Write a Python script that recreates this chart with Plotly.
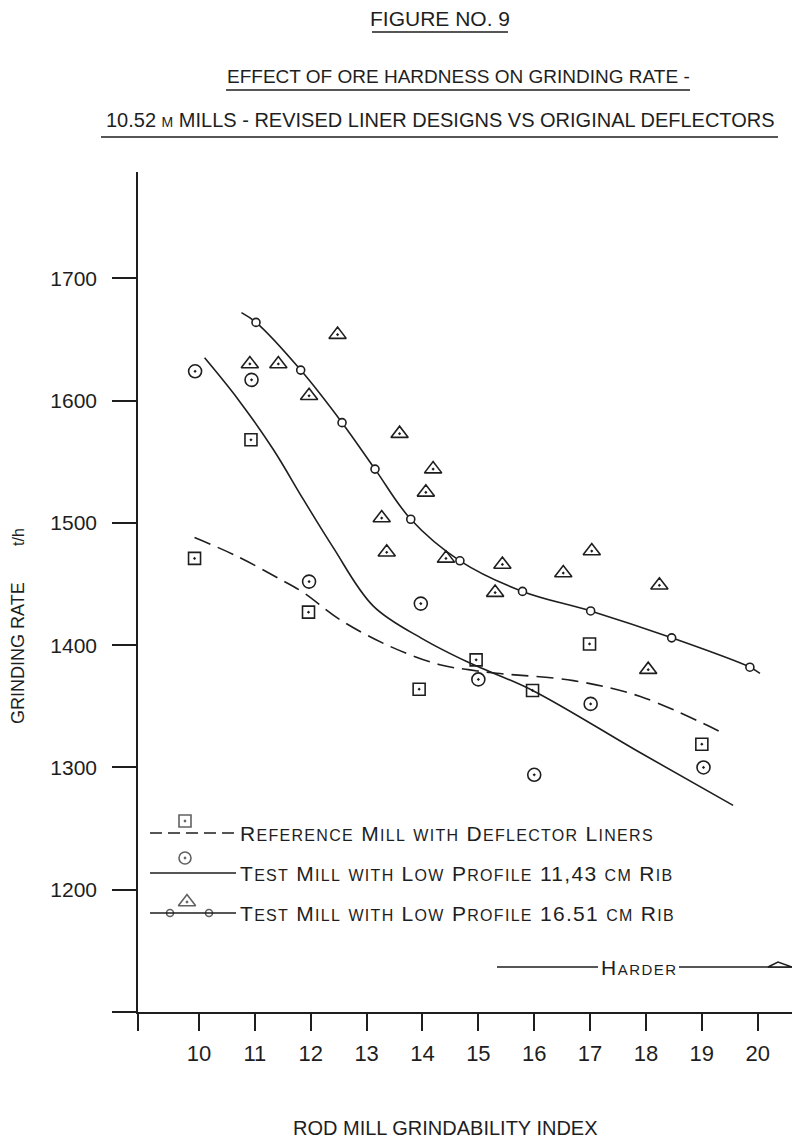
import plotly.graph_objects as go

# ---------------- data ----------------
x_tick_vals = [10, 11, 12, 13, 14, 15, 16, 17, 18, 19, 20]
y_tick_vals = [1200, 1300, 1400, 1500, 1600, 1700]

# Reference mill with deflector liners (squares)
ref_x = [9.92, 10.93, 11.96, 13.94, 14.96, 15.97, 16.99, 19.00]
ref_y = [1471, 1568, 1427, 1364, 1388, 1363, 1401, 1319]

# Test mill, low profile 11.43 cm rib (circle-dot)
rib114_x = [9.93, 10.94, 11.97, 13.97, 15.00, 16.00, 17.01, 19.03]
rib114_y = [1624, 1617, 1452, 1434, 1372, 1294, 1352, 1300]

# Test mill, low profile 16.51 cm rib (triangles)
rib165_x = [10.91, 11.42, 11.97, 12.48, 13.27, 13.36, 13.59, 14.06,
            14.19, 14.42, 15.30, 15.43, 16.52, 17.03, 18.04, 18.24]
rib165_y = [1630, 1630, 1604, 1654, 1504, 1476, 1573, 1525,
            1544, 1471, 1443, 1466, 1459, 1477, 1380, 1449]

# hand-drawn trend curves
ref_fit_x = [9.92, 10.67, 11.45, 11.87, 12.52, 13.42, 14.31, 14.82, 15.33, 16.70, 17.90, 19.43]
ref_fit_y = [1488, 1473, 1454, 1443, 1421, 1399, 1384, 1380, 1377, 1371, 1358, 1327]

rib114_fit_x = [10.10, 10.70, 11.33, 11.87, 12.40, 13.12, 14.01, 14.82, 15.97, 17.90, 19.56]
rib114_fit_y = [1635, 1601, 1560, 1519, 1480, 1432, 1405, 1386, 1363, 1312, 1269]

rib165_fit_x = [10.76, 11.02, 11.82, 12.56, 13.15, 13.79, 14.67, 15.79, 17.01, 18.46, 19.86, 20.04]
rib165_fit_y = [1672, 1664, 1625, 1582, 1544, 1503, 1469, 1444, 1428, 1406, 1382, 1377]
rib165_knot_x = [11.02, 11.82, 12.56, 13.15, 13.79, 14.67, 15.79, 17.01, 18.46, 19.86]
rib165_knot_y = [1664, 1625, 1582, 1544, 1503, 1469, 1444, 1428, 1406, 1382]

legend_labels = ["Reference Mill with Deflector Liners",
                 "Test Mill with Low Profile 11,43 cm Rib",
                 "Test Mill with Low Profile 16.51 cm Rib"]

# ---------------- style / layout ----------------
OFF = 8                      # page body margin of the browser
W, H = 800 - OFF, 1146 - OFF  # figure size so that it ends at the window edge
PL, PR, PT, PB = 138, 800, 172, 1012   # plot area in window pixels
ML, MR, MT, MB = PL - OFF, 800 - PR, PT - OFF, 1146 - PB
X_RANGE = [8.908, 20.757]
Y_RANGE = [1100, 1787]
INK = "#1e1e1e"
FONT = "Liberation Sans Narrow, Liberation Sans, Arial, sans-serif"


def px(x):
    return (x - PL) / (PR - PL)


def py(y):
    return (PB - y) / (PB - PT)


def smallcaps(s, big, small, extra=""):
    runs = []
    for ch in s:
        if ch.islower():
            sz, c = small, ch.upper()
        else:
            sz, c = big, ch
        if runs and runs[-1][0] == sz:
            runs[-1][1] += c
        else:
            runs.append([sz, c])
    return "".join(f'<span style="font-size:{sz}px;{extra}">{t}</span>' for sz, t in runs)


fig = go.Figure()

# trend curves
fig.add_trace(go.Scatter(x=ref_fit_x, y=ref_fit_y, mode="lines",
                         line=dict(color=INK, width=1.6, dash="17px,8px", shape="spline", smoothing=1.0),
                         hoverinfo="skip"))
fig.add_trace(go.Scatter(x=rib114_fit_x, y=rib114_fit_y, mode="lines",
                         line=dict(color=INK, width=1.6, shape="spline", smoothing=1.0),
                         hoverinfo="skip"))
fig.add_trace(go.Scatter(x=rib165_fit_x, y=rib165_fit_y, mode="lines",
                         line=dict(color=INK, width=1.6, shape="spline", smoothing=1.0),
                         hoverinfo="skip"))
fig.add_trace(go.Scatter(x=rib165_knot_x, y=rib165_knot_y, mode="markers",
                         marker=dict(symbol="circle", size=8, color="white",
                                     line=dict(color=INK, width=1.6)),
                         hoverinfo="skip"))

# data points
fig.add_trace(go.Scatter(x=ref_x, y=ref_y, mode="markers", name=legend_labels[0],
                         marker=dict(symbol="square-open-dot", size=12, color=INK,
                                     line=dict(color=INK, width=1.6))))
fig.add_trace(go.Scatter(x=rib114_x, y=rib114_y, mode="markers", name=legend_labels[1],
                         marker=dict(symbol="circle-open-dot", size=13, color=INK,
                                     line=dict(color=INK, width=1.6))))
fig.add_trace(go.Scatter(x=rib165_x, y=rib165_y, mode="markers", name=legend_labels[2],
                         marker=dict(symbol="triangle-up-open-dot", size=15, color=INK,
                                     line=dict(color=INK, width=1.6))))

# ---------- hand-drawn legend (pixel overlay axes) ----------
leg_rows = [833, 873, 913]
shapes = []
shapes.append(dict(type="line", xref="x2", yref="y2", x0=150, x1=236, y0=leg_rows[0], y1=leg_rows[0],
                   line=dict(color=INK, width=1.6, dash="12px,6px")))
shapes.append(dict(type="line", xref="x2", yref="y2", x0=150, x1=236, y0=leg_rows[1], y1=leg_rows[1],
                   line=dict(color=INK, width=1.6)))
shapes.append(dict(type="line", xref="x2", yref="y2", x0=150, x1=236, y0=leg_rows[2], y1=leg_rows[2],
                   line=dict(color=INK, width=1.6)))
# "Harder" arrow
shapes.append(dict(type="line", xref="x2", yref="y2", x0=497, x1=598, y0=967, y1=967,
                   line=dict(color=INK, width=1.6)))
shapes.append(dict(type="line", xref="x2", yref="y2", x0=679, x1=792, y0=967, y1=967,
                   line=dict(color=INK, width=1.6)))
shapes.append(dict(type="path", xref="x2", yref="y2",
                   path="M 768 967 L 778 962 L 792 967 Z",
                   line=dict(color=INK, width=1.4), fillcolor="white"))

fig.add_trace(go.Scatter(x=[185, 185, 187, 170, 209], y=[821, 858, 902, 913, 913],
                         xaxis="x2", yaxis="y2", mode="markers", cliponaxis=False,
                         marker=dict(symbol=["square-open-dot", "circle-open-dot", "triangle-up-open-dot",
                                             "circle", "circle"],
                                     size=[12, 12, 15, 7, 7], color=[INK, INK, INK, "white", "white"],
                                     line=dict(color=INK, width=1.6)),
                         hoverinfo="skip"))

annotations = []
for row, lab in zip(leg_rows, legend_labels):
    annotations.append(dict(xref="x2", yref="y2", x=238, y=row, xanchor="left", yanchor="middle",
                            showarrow=False, text=smallcaps(lab, 21, 16, "letter-spacing:1.3px"),
                            font=dict(family=FONT, color=INK)))
annotations.append(dict(xref="x2", yref="y2", x=639, y=967, xanchor="center", yanchor="middle",
                        showarrow=False, text=smallcaps("Harder", 21, 15, "letter-spacing:1.5px"),
                        font=dict(family=FONT, color=INK)))

# titles (paper coords)
titles = [("FIGURE NO. 9", 21, 440, 18, 372, 508, 32),
          ("EFFECT OF ORE HARDNESS ON GRINDING RATE -", 19, 458, 77, 226, 690, 90),
          ("10.52 m MILLS - REVISED LINER DESIGNS VS ORIGINAL DEFLECTORS", 20, 440, 120, 101, 778, 137)]
for txt, fs, cx, cy, u0, u1, uy in titles:
    annotations.append(dict(xref="paper", yref="paper", x=px(cx), y=py(cy), xanchor="center",
                            yanchor="middle", showarrow=False,
                            text=smallcaps(txt, fs, 14),
                            font=dict(family=FONT, color=INK)))
    shapes.append(dict(type="line", xref="paper", yref="paper", x0=px(u0), x1=px(u1),
                       y0=py(uy), y1=py(uy), line=dict(color=INK, width=1.6)))

# axis titles
annotations.append(dict(xref="paper", yref="paper", x=px(445), y=py(1128), xanchor="center",
                        yanchor="middle", showarrow=False, text="ROD MILL GRINDABILITY INDEX",
                        font=dict(family=FONT, size=20, color=INK)))
annotations.append(dict(xref="paper", yref="paper", x=px(18), y=py(653), xanchor="center",
                        yanchor="middle", showarrow=False, textangle=-90,
                        text="GRINDING RATE",
                        font=dict(family=FONT, size=18, color=INK)))
annotations.append(dict(xref="paper", yref="paper", x=px(18), y=py(537), xanchor="center",
                        yanchor="middle", showarrow=False, textangle=-90,
                        text="t/h",
                        font=dict(family=FONT, size=16, color=INK)))

fig.update_layout(
    width=W, height=H,
    margin=dict(l=ML, r=MR, t=MT, b=MB, autoexpand=False),
    paper_bgcolor="white", plot_bgcolor="white",
    showlegend=False,
    xaxis=dict(range=X_RANGE, tickvals=[X_RANGE[0]] + x_tick_vals,
               ticktext=[""] + [str(v) for v in x_tick_vals],
               ticks="outside", ticklen=17, tickwidth=1.6, tickcolor=INK,
               showline=True, linecolor=INK, linewidth=1.6, showgrid=False, zeroline=False,
               tickfont=dict(family=FONT, size=22, color=INK), ticklabelstandoff=4,
               automargin=False),
    yaxis=dict(range=Y_RANGE, tickvals=[Y_RANGE[0]] + y_tick_vals,
               ticktext=[""] + [str(v) for v in y_tick_vals],
               ticks="outside", ticklen=24, tickwidth=1.6, tickcolor=INK,
               showline=True, linecolor=INK, linewidth=1.6, showgrid=False, zeroline=False,
               tickfont=dict(family=FONT, size=21, color=INK), ticklabelstandoff=11,
               automargin=False),
    xaxis2=dict(overlaying="x", anchor="y2", range=[PL, PR], visible=False, fixedrange=True),
    yaxis2=dict(overlaying="y", anchor="x2", range=[PB, PT], visible=False, fixedrange=True),
    shapes=shapes,
    annotations=annotations,
)

fig.write_html("out.html")
